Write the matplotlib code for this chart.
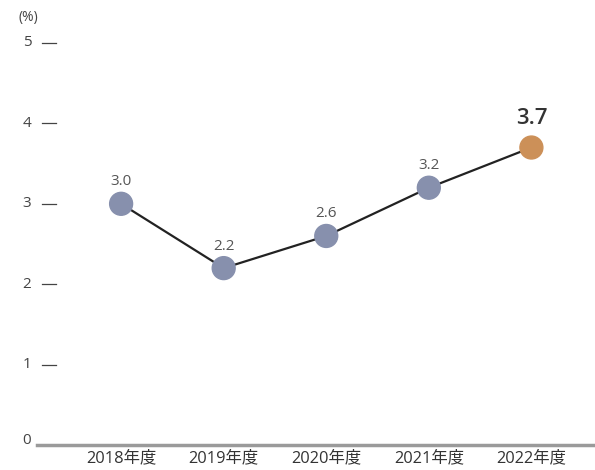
import matplotlib
matplotlib.use('Agg')
import matplotlib.pyplot as plt
import matplotlib.transforms as mtransforms

plt.rcParams['font.family'] = ['Open Sans', 'Noto Sans CJK JP', 'DejaVu Sans']

years = ['2018年度', '2019年度', '2020年度', '2021年度', '2022年度']
values = [3.0, 2.2, 2.6, 3.2, 3.7]
yticks = [0, 1, 2, 3, 4, 5]

point_colors = ['#8790ad'] * 4 + ['#cc9058']

fig = plt.figure(figsize=(5.95, 4.7), dpi=100)
ax = fig.add_axes([37 / 595, 1 - 445 / 470, 1 - 37 / 595, (445 - 43) / 470])

x = list(range(len(years)))
ax.plot(x, values, color='#222222', lw=1.6, zorder=2)
ax.scatter(x, values, s=16.5 ** 2, c=point_colors, zorder=3, clip_on=False)

for i, v in enumerate(values):
    if i == len(values) - 1:
        ax.annotate(f'{v:.1f}', (i, v), xytext=(0, 13), textcoords='offset points',
                    ha='center', va='bottom', fontsize=16, fontweight='semibold', color='#333333')
    else:
        ax.annotate(f'{v:.1f}', (i, v), xytext=(0, 10.5), textcoords='offset points',
                    ha='center', va='bottom', fontsize=11, color='#555555')

ax.set_xlim(-0.82, 4.62)
ax.set_ylim(0, 5)

for s in ax.spines.values():
    s.set_visible(False)
ax.axhline(0, color='#9a9a9a', lw=2.5, zorder=1, clip_on=False)

ax.set_yticks([])
ax.set_xticks(x)
ax.set_xticklabels(years, fontsize=11.8, color='#333333')
ax.tick_params(axis='x', length=0, pad=4)

trans = mtransforms.blended_transform_factory(fig.transFigure, ax.transData)
for t in yticks:
    if t == 0:
        fig.text(27 / 595, 1 - 440 / 470, '0', ha='center', va='center',
                 fontsize=11, color='#444444')
    else:
        ax.text(27 / 595, t, str(t), transform=trans, ha='center', va='center',
                fontsize=11, color='#444444')
        ax.plot([42 / 595, 56 / 595], [t, t], transform=trans, color='#444444',
                lw=0.9, clip_on=False)

fig.text(28 / 595, 1 - 18 / 470, '(%)', ha='center', va='center', fontsize=10, color='#444444')

fig.savefig('out.png', dpi=100)
